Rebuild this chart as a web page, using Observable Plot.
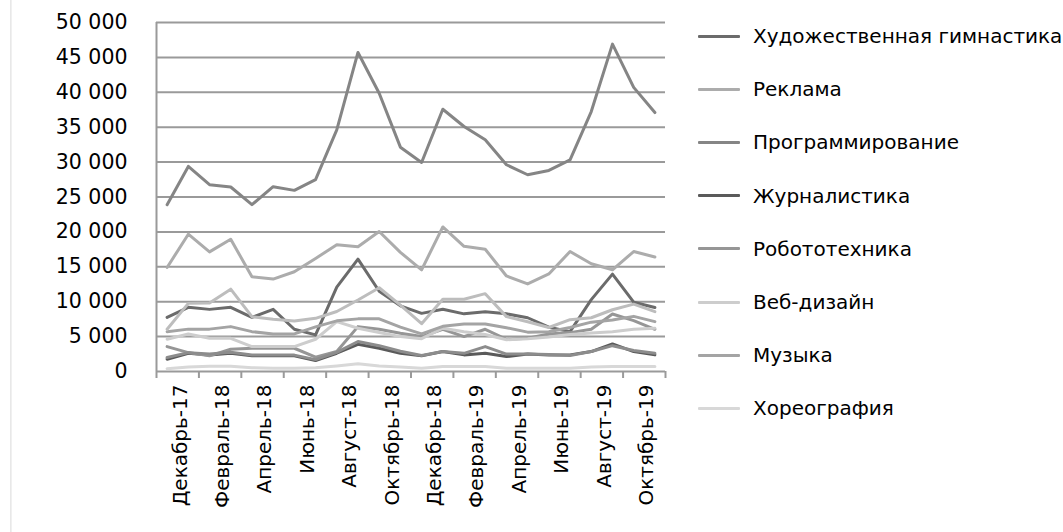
<!DOCTYPE html>
<html>
<head>
<meta charset="utf-8">
<script src="https://cdn.jsdelivr.net/npm/d3@7"></script>
<script src="https://cdn.jsdelivr.net/npm/@observablehq/plot@0.6"></script>
<style>
  html, body { margin: 0; padding: 0; background: #fff; }
  #wrap { position: relative; width: 1063px; height: 532px; overflow: hidden; font-family: "DejaVu Sans", sans-serif; }
  #edge { position: absolute; left: 10px; top: 0; width: 2px; height: 532px; background: linear-gradient(to right, #e4e4e4, #f4f4f4); }
  #legend { position: absolute; left: 698px; top: 0; }
  .item { position: absolute; left: 0; display: flex; align-items: center; white-space: nowrap; font-size: 20px; color: #000; }
  .sw { width: 42px; height: 3px; margin-right: 13px; border-radius: 1px; }
</style>
</head>
<body>
<div id="wrap"><div id="edge"></div><div id="chart"></div><div id="legend"></div></div>
<script>
// ---- data ----
const months = ["Декабрь-17","Январь-18","Февраль-18","Март-18","Апрель-18","Май-18","Июнь-18","Июль-18","Август-18","Сентябрь-18","Октябрь-18","Ноябрь-18","Декабрь-18","Январь-19","Февраль-19","Март-19","Апрель-19","Май-19","Июнь-19","Июль-19","Август-19","Сентябрь-19","Октябрь-19","Ноябрь-19"];
const xTickLabels = ["Декабрь-17","Февраль-18","Апрель-18","Июнь-18","Август-18","Октябрь-18","Декабрь-18","Февраль-19","Апрель-19","Июнь-19","Август-19","Октябрь-19"];
const yTicks = [0, 5000, 10000, 15000, 20000, 25000, 30000, 35000, 40000, 45000, 50000];

const seriesNames = ["Художественная гимнастика","Реклама","Программирование","Журналистика","Робототехника","Веб-дизайн","Музыка","Хореография","Серия 9","Серия 10"];
const legendCount = 8;

const gymnastics   = [7760, 9190, 8900, 9190, 7760, 8900, 6050, 5240, 12100, 16100, 11500, 9400, 8330, 8920, 8260, 8570, 8260, 7700, 6350, 5710, 10300, 13950, 9930, 9160];
const advertising  = [14900, 19670, 17140, 18950, 13570, 13240, 14290, 16190, 18170, 17860, 20050, 17070, 14570, 20710, 17930, 17520, 13690, 12550, 13980, 17190, 15430, 14570, 17190, 16400];
const programming  = [23900, 29380, 26760, 26430, 23900, 26480, 25950, 27480, 34620, 45710, 39860, 32140, 29950, 37570, 35100, 33190, 29620, 28190, 28810, 30330, 37240, 46900, 40710, 37100];
const journalism   = [1760, 2620, 2380, 2620, 2240, 2240, 2240, 1570, 2620, 3900, 3330, 2620, 2240, 2860, 2380, 2620, 2140, 2520, 2380, 2380, 2860, 3950, 2860, 2380];
const robotics     = [3570, 2710, 2240, 3190, 3330, 3330, 3330, 2050, 2860, 6430, 6050, 5480, 5000, 6050, 5000, 6050, 4620, 4760, 5380, 5570, 6050, 8240, 7290, 6050];
const webDesign    = [4620, 5380, 4760, 4760, 3570, 3570, 3570, 4620, 7140, 6200, 5600, 5000, 4700, 6200, 5700, 5300, 4550, 4700, 4950, 5300, 5500, 5700, 6050, 6200];
const music        = [5710, 6070, 6070, 6430, 5710, 5380, 5380, 6400, 7260, 7540, 7540, 6360, 5400, 6470, 6790, 6810, 6270, 5640, 5700, 6310, 7070, 7380, 7900, 7140];
const choreography = [400, 650, 750, 750, 550, 450, 450, 550, 800, 1100, 800, 650, 450, 700, 700, 700, 450, 450, 450, 450, 650, 700, 700, 700];
const series9      = [6050, 9760, 9800, 11800, 7860, 7480, 7240, 7620, 8600, 10250, 12000, 9500, 6850, 10350, 10350, 11150, 7860, 7120, 6300, 7430, 7700, 8850, 9650, 8570];
const series10     = [2000, 2700, 2500, 2750, 2350, 2350, 2350, 1700, 2750, 4300, 3700, 2900, 2300, 2860, 2600, 3570, 2500, 2520, 2450, 2300, 2860, 3700, 3000, 2600];

const seriesValues = [gymnastics, advertising, programming, journalism, robotics, webDesign, music, choreography, series9, series10];

// ---- styles ----
const seriesColors = ["#6b6b6b","#acacac","#858585","#5a5a5a","#969696","#cdcdcd","#a4a4a4","#d8d8d8","#bdbdbd","#8c8c8c"];

const table = [];
seriesValues.forEach((vals, s) => vals.forEach((v, i) => table.push({month: i, value: v, series: seriesNames[s]})));

const loc = d3.formatLocale({decimal: ",", thousands: "\u00a0", grouping: [3], currency: ["", ""]});
const fmt = loc.format(",d");
const labelIdx = xTickLabels.map(l => months.indexOf(l));
const boundaries = d3.range(-0.5, months.length, 2);

const chart = Plot.plot({
  width: 1063,
  height: 532,
  marginLeft: 156,
  marginRight: 398,
  marginTop: 22,
  marginBottom: 161,
  style: {fontFamily: "DejaVu Sans, sans-serif", fontSize: "20px", color: "#000", background: "transparent", overflow: "visible"},
  x: {domain: [-0.5, months.length - 0.5]},
  y: {domain: [0, 50000]},
  color: {domain: seriesNames, range: seriesColors},
  marks: [
    Plot.gridY(yTicks, {stroke: "#9a9a9a", strokeOpacity: 1, strokeWidth: 2}),
    Plot.ruleX([-0.5], {stroke: "#9a9a9a", strokeWidth: 2}),
    Plot.axisX(boundaries, {tickSize: 7, tickFormat: () => "", stroke: "#9a9a9a", strokeWidth: 2, label: null}),
    Plot.axisX(labelIdx, {tickSize: 0, tickPadding: 13, tickRotate: -90, tickFormat: i => months[i], fontSize: 20, label: null, dx: 13}),
    Plot.axisY(yTicks, {tickSize: 0, tickPadding: 29, tickFormat: fmt, fontSize: 20.5, label: null}),
    Plot.line(table, {x: "month", y: "value", z: "series", stroke: "series", strokeWidth: 3, strokeLinejoin: "round", strokeLinecap: "round"})
  ]
});
document.getElementById("chart").appendChild(chart);

// legend
const legend = document.getElementById("legend");
seriesNames.slice(0, legendCount).forEach((name, k) => {
  const item = document.createElement("div");
  item.className = "item";
  item.style.top = (36 + k * 53.2 - 13) + "px";
  item.style.height = "26px";
  const sw = document.createElement("span");
  sw.className = "sw";
  sw.style.background = seriesColors[k];
  const t = document.createElement("span");
  t.textContent = name;
  item.appendChild(sw);
  item.appendChild(t);
  legend.appendChild(item);
});
</script>
</body>
</html>
